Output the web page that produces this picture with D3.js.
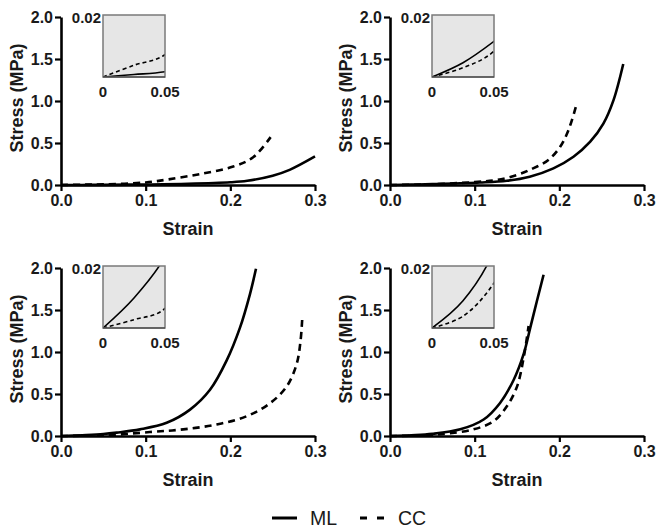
<!DOCTYPE html>
<html><head><meta charset="utf-8">
<script src="https://cdn.jsdelivr.net/npm/d3@7"></script>
<style>
body{margin:0;background:#fff}
svg{display:block;font-family:"Liberation Sans",Arial,Helvetica,sans-serif}
</style></head>
<body><svg id="chart" width="657" height="528"></svg>
<script>
// ---- data (strain, stress MPa) ----
const xTicks = [0, 0.1, 0.2, 0.3];
const yTicks = [0, 0.5, 1.0, 1.5, 2.0];
const insetXTickLabels = ["0", "0.05"];
const insetYTickLabel = "0.02";
const seriesNames = ["ML", "CC"];
const xLabel = "Strain";
const yLabel = "Stress (MPa)";

// Panel A (top-left)
const aStrainML = [0, 0.025, 0.05, 0.1, 0.15, 0.2, 0.22, 0.25, 0.27, 0.3];
const aStressML = [0, 0.0008, 0.0017, 0.006, 0.014, 0.032, 0.05, 0.11, 0.18, 0.34];
const aStrainCC = [0, 0.025, 0.05, 0.1, 0.125, 0.164, 0.2035, 0.227, 0.2476];
const aStressCC = [0, 0.0038, 0.0072, 0.03, 0.064, 0.13, 0.22, 0.33, 0.57];

// Panel B (top-right)
const bStrainML = [0, 0.025, 0.05, 0.106, 0.138, 0.165, 0.193, 0.2167, 0.2365, 0.252, 0.264, 0.2755];
const bStressML = [0, 0.0046, 0.0115, 0.03, 0.051, 0.099, 0.198, 0.336, 0.515, 0.73, 1.01, 1.44];
const bStrainCC = [0, 0.025, 0.05, 0.1, 0.126, 0.1497, 0.169, 0.187, 0.201, 0.2108, 0.2195];
const bStressCC = [0, 0.003, 0.0083, 0.035, 0.059, 0.119, 0.198, 0.297, 0.455, 0.654, 0.93];

// Panel C (bottom-left)
const cStrainML = [0, 0.025, 0.05, 0.0658, 0.0933, 0.1248, 0.1524, 0.176, 0.1957, 0.2114, 0.2232, 0.2303];
const cStressML = [0, 0.0097, 0.023, 0.04, 0.079, 0.157, 0.314, 0.55, 0.90, 1.29, 1.69, 1.99];
const cStrainCC = [0, 0.025, 0.05, 0.105, 0.1444, 0.1839, 0.2193, 0.2468, 0.2666, 0.2784, 0.283, 0.285];
const cStressCC = [0, 0.0027, 0.0063, 0.047, 0.079, 0.137, 0.235, 0.39, 0.59, 0.86, 1.14, 1.41];

// Panel D (bottom-right)
const dStrainML = [0, 0.025, 0.05, 0.083, 0.1106, 0.130, 0.146, 0.158, 0.1657, 0.1736, 0.1814];
const dStressML = [0, 0.0088, 0.025, 0.079, 0.196, 0.393, 0.667, 0.98, 1.29, 1.61, 1.92];
const dStrainCC = [0, 0.025, 0.05, 0.071, 0.0987, 0.1224, 0.138, 0.150, 0.158, 0.1637];
const dStressCC = [0, 0.0038, 0.0145, 0.032, 0.079, 0.176, 0.353, 0.588, 0.94, 1.31];

// ---- layout ----
const svg = d3.select("#chart");
const plotW = 254, plotH = 168;
const panels = [
  {ox: 61,  oy: 17,  ml: [aStrainML, aStressML], cc: [aStrainCC, aStressCC]},
  {ox: 390, oy: 17,  ml: [bStrainML, bStressML], cc: [bStrainCC, bStressCC]},
  {ox: 61,  oy: 268, ml: [cStrainML, cStressML], cc: [cStrainCC, cStressCC]},
  {ox: 390, oy: 268, ml: [dStrainML, dStressML], cc: [dStrainCC, dStressCC]}
];
const txtColor = "#1a1a1a";
const curve = d3.curveCatmullRom.alpha(0.5);

panels.forEach((p, i) => {
  const x = d3.scaleLinear().domain([0, 0.3]).range([p.ox, p.ox + plotW]);
  const y = d3.scaleLinear().domain([0, 2]).range([p.oy + plotH, p.oy]);
  const line = d3.line().x(d => x(d[0])).y(d => y(d[1])).curve(curve);

  svg.append("path").datum(d3.zip(p.ml[0], p.ml[1])).attr("d", line)
    .attr("fill", "none").attr("stroke", "#000").attr("stroke-width", 2.6);
  svg.append("path").datum(d3.zip(p.cc[0], p.cc[1])).attr("d", line)
    .attr("fill", "none").attr("stroke", "#000").attr("stroke-width", 2.6)
    .attr("stroke-dasharray", "7,5");

  const xa = svg.append("g").attr("transform", `translate(0,${p.oy + plotH})`)
    .call(d3.axisBottom(x).tickValues(xTicks).tickFormat(d3.format(".1f"))
      .tickSize(6).tickSizeOuter(0).tickPadding(4));
  const ya = svg.append("g").attr("transform", `translate(${p.ox},0)`)
    .call(d3.axisLeft(y).tickValues(yTicks).tickFormat(d3.format(".1f"))
      .tickSize(6).tickSizeOuter(0).tickPadding(2));
  [xa, ya].forEach(a => {
    a.select(".domain").attr("stroke", "#000").attr("stroke-width", 2.6);
    a.selectAll(".tick line").attr("stroke", "#000").attr("stroke-width", 2.2);
    a.selectAll(".tick text").attr("font-size", 16).attr("font-weight", "bold")
      .attr("fill", txtColor).attr("font-family", "Liberation Sans, Arial, sans-serif");
  });

  svg.append("text").text(xLabel)
    .attr("x", p.ox + plotW / 2).attr("y", p.oy + plotH + 50)
    .attr("text-anchor", "middle").attr("font-size", 18).attr("font-weight", "bold")
    .attr("fill", txtColor);
  svg.append("text").text(yLabel)
    .attr("transform", `translate(${p.ox - 44},${p.oy + plotH / 2 - 3}) rotate(-90)`)
    .attr("text-anchor", "middle").attr("dominant-baseline", "central")
    .attr("font-size", 18).attr("font-weight", "bold").attr("fill", txtColor);

  // inset
  const ix = p.ox + 42, iy = p.oy - 2, iw = 62, ih = 62;
  const sx = d3.scaleLinear().domain([0, 0.05]).range([ix, ix + iw]);
  const sy = d3.scaleLinear().domain([0, 0.02]).range([iy + ih, iy]);
  const iline = d3.line().x(d => sx(d[0])).y(d => sy(d[1])).curve(curve);
  const cid = "clip" + i;
  svg.append("clipPath").attr("id", cid).append("rect")
    .attr("x", ix).attr("y", iy).attr("width", iw).attr("height", ih);
  svg.append("rect").attr("x", ix).attr("y", iy).attr("width", iw).attr("height", ih)
    .attr("fill", "#e6e6e6").attr("stroke", "none");
  const ig = svg.append("g").attr("clip-path", `url(#${cid})`);
  ig.append("path").datum(d3.zip(p.ml[0], p.ml[1])).attr("d", iline)
    .attr("fill", "none").attr("stroke", "#000").attr("stroke-width", 1.6);
  ig.append("path").datum(d3.zip(p.cc[0], p.cc[1])).attr("d", iline)
    .attr("fill", "none").attr("stroke", "#000").attr("stroke-width", 1.6)
    .attr("stroke-dasharray", "4,3");
  svg.append("rect").attr("x", ix).attr("y", iy).attr("width", iw).attr("height", ih)
    .attr("fill", "none").attr("stroke", "#7a7a7a").attr("stroke-width", 1.5);
  svg.append("line").attr("x1", ix).attr("x2", ix + iw).attr("y1", sy(0)).attr("y2", sy(0))
    .attr("stroke", "#333").attr("stroke-width", 1.2);

  svg.append("text").text(insetYTickLabel)
    .attr("x", ix - 2).attr("y", sy(0.02) + 2)
    .attr("text-anchor", "end").attr("dominant-baseline", "central")
    .attr("font-size", 15).attr("font-weight", "bold").attr("fill", txtColor);
  [0, 0.05].forEach((v, k) => {
    svg.append("text").text(insetXTickLabels[k])
      .attr("x", sx(v)).attr("y", sy(0) + 14)
      .attr("text-anchor", "middle").attr("dominant-baseline", "central")
      .attr("font-size", 15).attr("font-weight", "bold").attr("fill", txtColor);
  });
});

// legend
const leg = svg.append("g");
leg.append("line").attr("x1", 272).attr("x2", 297).attr("y1", 518).attr("y2", 518)
  .attr("stroke", "#000").attr("stroke-width", 3);
leg.append("text").text(seriesNames[0]).attr("x", 310).attr("y", 525)
  .attr("font-size", 19.5).attr("fill", txtColor);
leg.append("line").attr("x1", 360).attr("x2", 384).attr("y1", 518).attr("y2", 518)
  .attr("stroke", "#000").attr("stroke-width", 3).attr("stroke-dasharray", "7,10");
leg.append("text").text(seriesNames[1]).attr("x", 398).attr("y", 525)
  .attr("font-size", 19.5).attr("fill", txtColor);
</script></body></html>
